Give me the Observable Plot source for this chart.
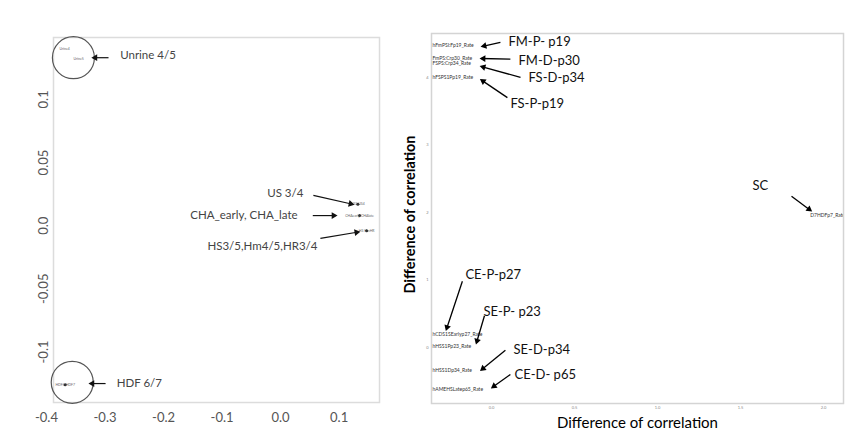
<!DOCTYPE html>
<html><head><meta charset="utf-8">
<script src="https://cdn.jsdelivr.net/npm/d3@7"></script>
<script src="https://cdn.jsdelivr.net/npm/@observablehq/plot@0.6"></script>
<style>
body{margin:0;background:#fff;}
#wrap{position:relative;width:864px;height:448px;overflow:hidden;background:#fff;}
#left{position:absolute;left:0;top:0;}
#right{position:absolute;left:400px;top:0;}
</style></head><body><div id="wrap"><div id="left"></div><div id="right"></div></div>
<script>
// ---------- Left panel data ----------
const leftNames = ["Urine4", "Urine5", "HDF6 HDF7", "US3 US4", "CHAearly CHAlate", "HS HmHR"];
const leftX = [-0.369, -0.345, -0.368, 0.132, 0.135, 0.147];
const leftY = [0.140, 0.132, -0.126, 0.017, 0.008, -0.004];
const leftXTicks = [-0.4, -0.3, -0.2, -0.1, 0.0, 0.1];
const leftYTicks = [0.1, 0.05, 0, -0.05, -0.1];
// circled groups
const circleX = [-0.354, -0.356];
const circleY = [0.133, -0.124];
// annotations
const leftLabels = ["Unrine 4/5", "US 3/4", "CHA_early, CHA_late", "HS3/5,Hm4/5,HR3/4", "HDF 6/7"];
const leftLabelX = [-0.274, 0.039, 0.029, -0.125, -0.280];
const leftLabelY = [0.135, 0.026, 0.008, -0.016, -0.125];
const leftLabelAnchor = ["start", "end", "end", "start", "start"];
const leftArrowX1 = [-0.294, 0.056, 0.055, 0.068, -0.299];
const leftArrowY1 = [0.133, 0.024, 0.008, -0.010, -0.125];
const leftArrowX2 = [-0.320, 0.123, 0.094, 0.133, -0.325];
const leftArrowY2 = [0.133, 0.017, 0.008, -0.005, -0.125];

// ---------- Right panel data ----------
const rightNames = ["hFmPSI:Fp19_Rate", "FmPS:Crp30_Rate", "FSPS:Crp34_Rate", "hFSPS1Pp19_Rate",
  "D7HDFp7_Rate", "hCDS1SEarlyp27_Rate", "hHSS1Pp23_Rate", "hHSS1Dp34_Rate", "hAMEHSLatep65_Rate"];
const rightX = [-0.355, -0.355, -0.355, -0.355, 1.92, -0.355, -0.355, -0.355, -0.355];
const rightY = [4.47, 4.28, 4.20, 4.00, 1.96, 0.19, 0.015, -0.34, -0.62];
const rightXTicks = [0, 0.5, 1, 1.5, 2];
const rightYTicks = [0, 1, 2, 3, 4];
const rightLabels = ["FM-P- p19", "FM-D-p30", "FS-D-p34", "FS-P-p19", "SC", "CE-P-p27", "SE-P- p23", "SE-D-p34", "CE-D- p65"];
const rightLabelX = [0.102, 0.163, 0.223, 0.114, 1.572, -0.157, -0.048, 0.133, 0.139];
const rightLabelY = [4.53, 4.24, 3.99, 3.61, 2.40, 1.07, 0.53, -0.04, -0.40];
const rightArrowX1 = [0.054, 0.114, 0.175, 0.096, 1.807, -0.175, -0.042, 0.084, 0.114];
const rightArrowY1 = [4.52, 4.27, 4.00, 3.70, 2.24, 0.98, 0.47, -0.04, -0.40];
const rightArrowX2 = [-0.054, -0.060, -0.060, -0.060, 1.922, -0.271, -0.090, -0.060, 0.006];
const rightArrowY2 = [4.46, 4.28, 4.16, 3.96, 2.03, 0.27, 0.07, -0.33, -0.59];
const axisTitle = "Difference of correlation";

// ---------- build tables ----------
const leftPts = leftNames.map((n, i) => ({name: n, x: leftX[i], y: leftY[i]}));
const circles = circleX.map((x, i) => ({x, y: circleY[i]}));
const leftAnn = leftLabels.map((t, i) => ({t, x: leftLabelX[i], y: leftLabelY[i], a: leftLabelAnchor[i],
  x1: leftArrowX1[i], y1: leftArrowY1[i], x2: leftArrowX2[i], y2: leftArrowY2[i]}));
const rightPts = rightNames.map((n, i) => ({name: n, x: rightX[i], y: rightY[i]}));
const rightAnn = rightLabels.map((t, i) => ({t, x: rightLabelX[i], y: rightLabelY[i],
  x1: rightArrowX1[i], y1: rightArrowY1[i], x2: rightArrowX2[i], y2: rightArrowY2[i]}));

// filled arrow heads: placed using the plot's own scales
const HEAD_R = 2.5;
function heads(ann, base) {
  const probe = Plot.plot({...base, marks: [Plot.frame()]});
  const sx = probe.scale("x"), sy = probe.scale("y");
  const fx = d3.scaleLinear(sx.domain, sx.range), fy = d3.scaleLinear(sy.domain, sy.range);
  const size = Math.PI * HEAD_R * HEAD_R;
  const tip = 2 * Math.sqrt(size / (Math.sqrt(3) * 3));
  return ann.map(d => {
    const px1 = fx(d.x1), py1 = fy(d.y1), px2 = fx(d.x2), py2 = fy(d.y2);
    const a = Math.atan2(py2 - py1, px2 - px1);
    const cx = px2 - Math.cos(a) * tip * 0.5, cy = py2 - Math.sin(a) * tip * 0.5;
    return {x: fx.invert(cx), y: fy.invert(cy), rot: a * 180 / Math.PI + 90};
  });
}

const leftBase = {
  width: 400, height: 448,
  marginLeft: 53, marginTop: 37, marginRight: 21, marginBottom: 46,
  x: {domain: [-0.388, 0.169]},
  y: {domain: [-0.140, 0.149]},
  style: {fontFamily: "Lato, sans-serif", background: "#fff", overflow: "visible"}
};
const leftHeads = heads(leftAnn, leftBase);
const left = Plot.plot({
  ...leftBase,
  marks: [
    Plot.frame({stroke: "#dcdcdc", strokeWidth: 1.5}),
    Plot.axisX({ticks: leftXTicks, tickSize: 0, tickPadding: 10, fontSize: 13, color: "#555",
      tickFormat: d => d.toFixed(1), label: null}),
    Plot.axisY({ticks: leftYTicks, tickSize: 0, tickPadding: 6, fontSize: 13, color: "#555", tickRotate: -90,
      tickFormat: d => d === 0 ? "0.0" : String(d), label: null}),
    Plot.dot(circles, {x: "x", y: "y", r: 21, stroke: "#555", strokeWidth: 1.2, fill: "none"}),
    Plot.text(leftPts, {x: "x", y: "y", text: "name", fontSize: 3.5, fill: "#666"}),
    Plot.dot(leftPts.slice(2), {x: "x", y: "y", r: 1.5, fill: "#333", stroke: "none"}),
    Plot.link(leftAnn, {x1: "x1", y1: "y1", x2: "x2", y2: "y2", stroke: "#111", strokeWidth: 1.2}),
    Plot.dot(leftHeads, {x: "x", y: "y", symbol: "triangle", rotate: "rot", r: HEAD_R, fill: "#111", stroke: "none"}),
    Plot.text(leftAnn, {x: "x", y: "y", text: "t", textAnchor: "start", fontSize: 11.5, fill: "#444",
      filter: d => d.a === "start"}),
    Plot.text(leftAnn, {x: "x", y: "y", text: "t", textAnchor: "end", fontSize: 11.5, fill: "#444",
      filter: d => d.a === "end"})
  ]
});
document.getElementById("left").appendChild(left);

const rightBase = {
  width: 464, height: 448,
  marginLeft: 31, marginTop: 33, marginRight: 21, marginBottom: 45,
  x: {domain: [-0.361, 2.12]},
  y: {domain: [-0.83, 4.65]},
  style: {fontFamily: "Lato, sans-serif", background: "#fff", overflow: "visible"}
};
const rightHeads = heads(rightAnn, rightBase);
const right = Plot.plot({
  ...rightBase,
  marks: [
    Plot.frame({stroke: "#d4d4d4", strokeWidth: 1.5}),
    Plot.axisX({ticks: rightXTicks, tickSize: 0, tickPadding: 3, fontSize: 4, color: "#888",
      tickFormat: d => d.toFixed(1), label: null}),
    Plot.axisY({ticks: rightYTicks, tickSize: 0, tickPadding: 3, fontSize: 4, color: "#888",
      tickFormat: d => String(d), label: null}),
    Plot.text(rightPts, {x: "x", y: "y", text: "name", textAnchor: "start", fontSize: 5, fill: "#333", clip: true}),
    Plot.link(rightAnn, {x1: "x1", y1: "y1", x2: "x2", y2: "y2", stroke: "#000", strokeWidth: 1.3}),
    Plot.dot(rightHeads, {x: "x", y: "y", symbol: "triangle", rotate: "rot", r: HEAD_R, fill: "#000", stroke: "none"}),
    Plot.text(rightAnn, {x: "x", y: "y", text: "t", textAnchor: "start", fontSize: 13, fill: "#111",
      style: "letter-spacing:-0.5px"}),
    Plot.text([axisTitle], {frameAnchor: "bottom", dy: 24, fontSize: 15, fill: "#000"}),
    Plot.text([axisTitle], {frameAnchor: "left", rotate: -90, textAnchor: "middle", dx: -21, dy: -4, fontSize: 14.5,
      fontWeight: "bold", fill: "#000"})
  ]
});
document.getElementById("right").appendChild(right);
</script>
</body></html>
